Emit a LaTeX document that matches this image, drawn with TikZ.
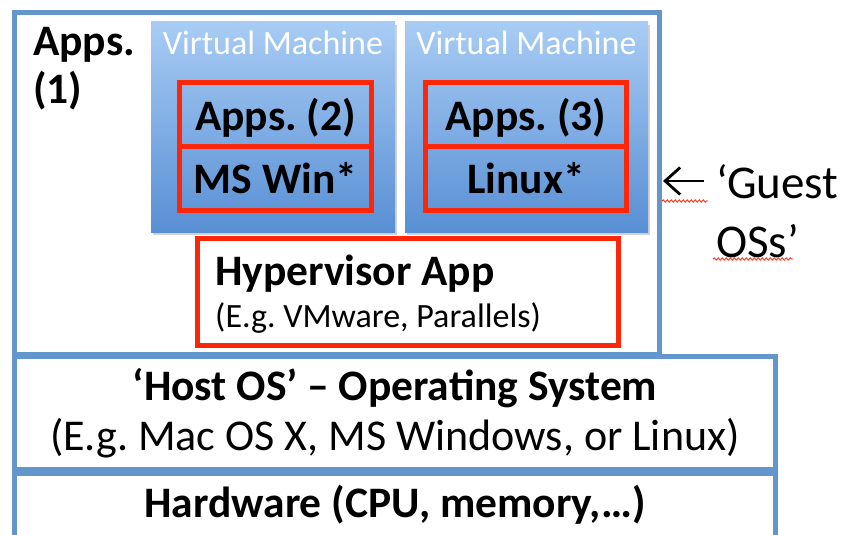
\documentclass[tikz,border=0pt]{standalone}
\usepackage{fontspec}
\setmainfont{Carlito}
\frenchspacing
\usetikzlibrary{arrows.meta, shadows, decorations.pathmorphing}

\definecolor{layerblue}{RGB}{98,150,205}
\definecolor{guestred}{RGB}{252,38,8}
\definecolor{vmtop}{RGB}{168,204,244}
\definecolor{vmbottom}{RGB}{88,143,212}

\tikzset{
  layerbox/.style={draw=layerblue, line width=5pt, fill=white, inner sep=0pt, outer sep=0pt, anchor=north west},
  guestbox/.style={draw=guestred, line width=5.5pt, inner sep=0pt, outer sep=0pt, anchor=north west},
  vmbox/.style={top color=vmtop, bottom color=vmbottom, inner sep=0pt, outer sep=0pt, anchor=north west,
    drop shadow={shadow xshift=2pt, shadow yshift=-3pt, opacity=0.35}},
  boldtext/.style={font=\fontsize{43.5}{48}\selectfont\bfseries, inner sep=0pt, anchor=base},
  plaintext/.style={font=\fontsize{44}{48}\selectfont, inner sep=0pt, anchor=base},
  vmtext/.style={font=\fontsize{34}{38}\selectfont, text=white, inner sep=0pt, anchor=base},
  spellmark/.style={draw=guestred, line width=0.8pt, decorate, decoration={snake, amplitude=1.2pt, segment length=4pt}},
}

\begin{document}
\begin{tikzpicture}[x=1pt, y=-1pt]
    \useasboundingbox (0,0) rectangle (848,535);

    %ホスト側の層
    \node[layerbox, minimum width=645pt, minimum height=341.5pt] (hostapps) at (14.5,12.5) {};
    \node[layerbox, minimum width=761pt, minimum height=113.5pt] (hostos) at (14.5,356) {};
    \node[layerbox, minimum width=761pt, minimum height=70pt] (hardware) at (14.5,473.5) {};

    %仮想マシン
    \node[vmbox, minimum width=244pt, minimum height=210pt] (vmone) at (151,22) {};
    \node[vmbox, minimum width=243pt, minimum height=210pt] (vmtwo) at (405,22) {};

    %ゲストOS (赤枠)
    \node[guestbox, minimum width=192pt, minimum height=64pt] (appstwobox) at (179.5,82.5) {};
    \node[guestbox, minimum width=192pt, minimum height=64pt] (winbox) at (179.5,146.5) {};
    \node[guestbox, minimum width=201pt, minimum height=64pt] (appsthreebox) at (425.5,82.5) {};
    \node[guestbox, minimum width=201pt, minimum height=64pt] (linuxbox) at (425.5,146.5) {};
    \node[guestbox, fill=white, minimum width=421pt, minimum height=107pt] (hypervisor) at (197.5,238.5) {};

    %文字
    \node[boldtext, anchor=north west, align=left] (appsone) at (33,27) {Apps.\\(1)};
    \node[vmtext] (vmonelabel) at (273,55) {Virtual Machine};
    \node[vmtext] (vmtwolabel) at (526.5,55) {Virtual Machine};
    \node[boldtext] (appstwo) at (275.5,130) {Apps. (2)};
    \node[boldtext] (winos) at (275.5,193) {MS Win*};
    \node[boldtext] (appsthree) at (526,130) {Apps. (3)};
    \node[boldtext] (linuxos) at (526,193) {Linux*};
    \node[boldtext, anchor=base west] (hyptitle) at (215,285) {Hypervisor App};
    \node[vmtext, text=black, anchor=base west] (hypnote) at (215,327) {(E.g. VMware, Parallels)};
    \node[boldtext] (hosttitle) at (395,400) {‘Host OS’ – Operating System};
    \node[plaintext] (hostnote) at (395,450) {(E.g. Mac OS X, MS Windows, or Linux)};
    \node[boldtext] (hwtitle) at (395,517) {Hardware (CPU, memory,…)};

    %ゲストOSの注記
    \node[plaintext, font=\fontsize{47}{59}\selectfont, anchor=north west, align=left] (guestnote) at (716,164) {‘Guest\\OSs’};
    \coordinate (arrowtail) at (704,181);
    \coordinate (arrowtip) at (663,181);
    \draw[-{Straight Barb[length=15pt, width=27pt]}, line width=2.8pt] (arrowtail) -- (arrowtip);

    %赤い波線
    \draw[spellmark] (662,201) -- (708,201);
    \draw[spellmark] (713,259) -- (793,259);
\end{tikzpicture}
\end{document}
